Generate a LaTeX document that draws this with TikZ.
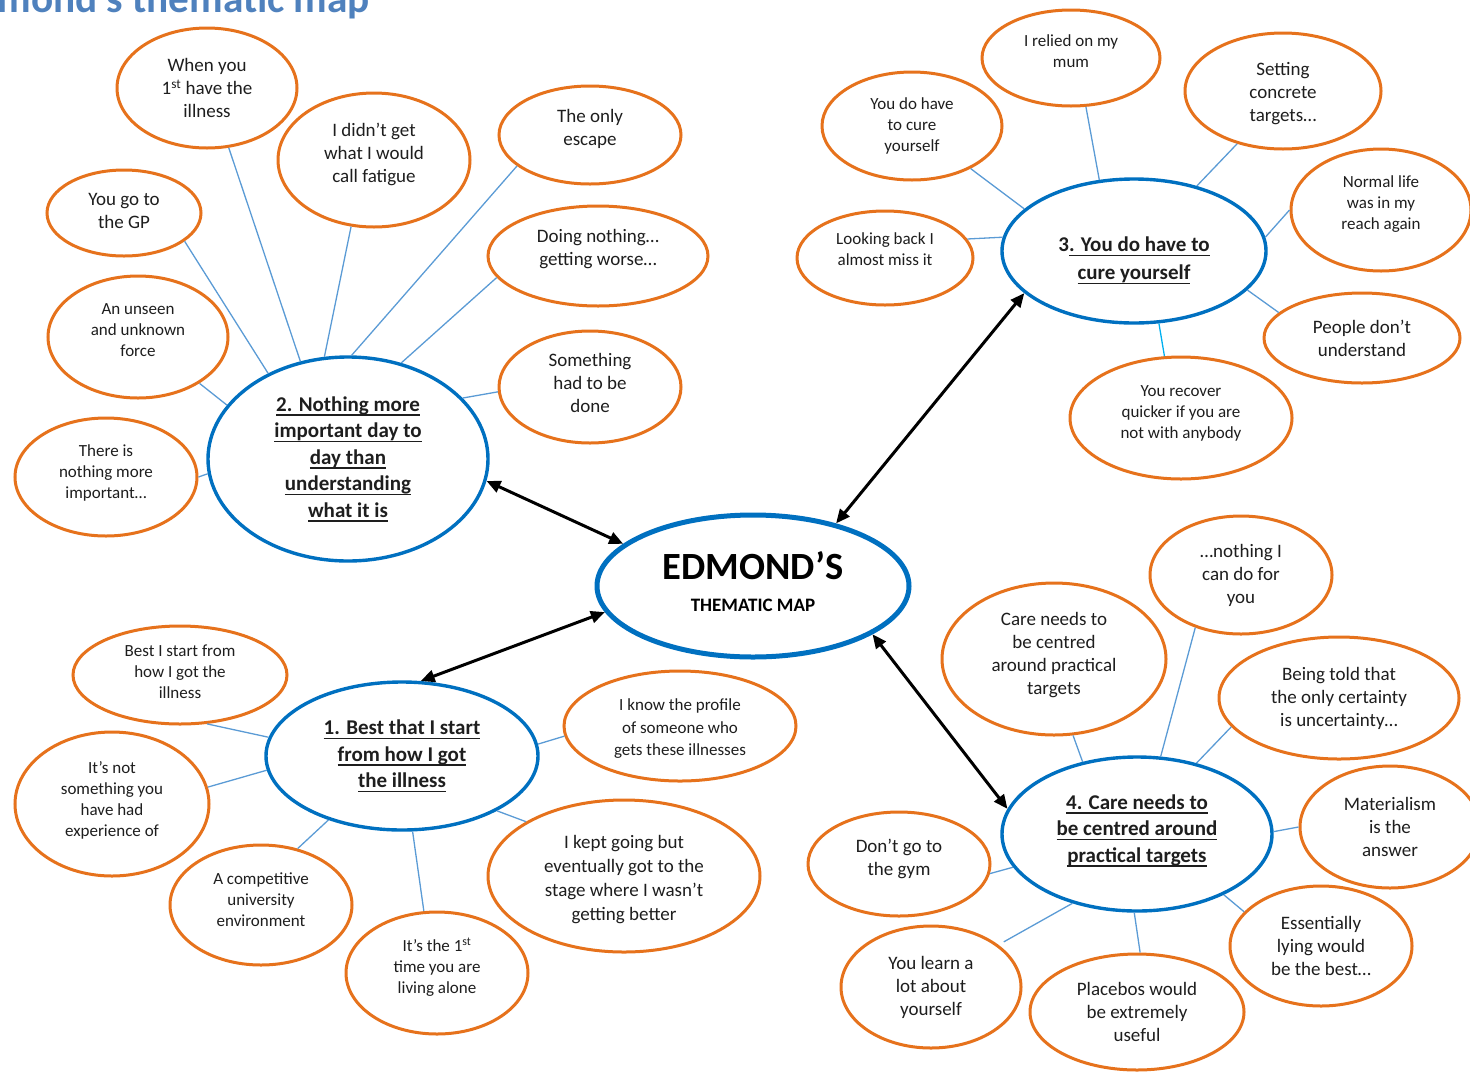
\documentclass[tikz,border=0pt]{standalone}
\usepackage{fontspec}
\setmainfont{Carlito}
\usetikzlibrary{shapes.geometric,arrows.meta}

\definecolor{leafor}{RGB}{230,114,28}
\definecolor{hubblue}{RGB}{0,112,192}
\definecolor{spoke}{RGB}{91,155,213}
\definecolor{spokecyan}{RGB}{0,176,240}
\definecolor{titleblue}{RGB}{79,129,189}
\definecolor{ink}{RGB}{30,30,30}

% underline drawn as a fixed-depth rule under each line
\newsavebox\ulbox
\newcommand{\ulx}[1]{\sbox\ulbox{#1}\rlap{\rule[-4.5pt]{\wd\ulbox}{1.6pt}}\usebox\ulbox}
% invisible struts that nudge a text block up (extra depth) or down (extra height)
\newcommand{\lift}[1]{\rule[-#1pt]{0pt}{#1pt}}
\newcommand{\drop}[1]{\rule{0pt}{#1pt}}

\tikzset{
  sz/.style 2 args={minimum width=#1pt, minimum height=#2pt},
  leaf/.style={ellipse, draw=leafor, line width=3pt, fill=white, inner sep=0pt,
    align=center, text=ink, font=\fontsize{19}{23}\selectfont},
  leafs/.style={leaf, font=\fontsize{17}{21}\selectfont},
  hub/.style={ellipse, draw=hubblue, line width=3.4pt, fill=white, inner sep=0pt,
    align=center, text=ink, font=\fontsize{21}{26.5}\selectfont\bfseries},
  core/.style={ellipse, draw=hubblue, line width=5pt, fill=white, inner sep=0pt,
    align=center, text=black, font=\fontsize{38.5}{32}\selectfont\bfseries},
  link/.style={draw=spoke, line width=1.3pt},
  dbl/.style={{Triangle[length=14pt,width=12pt]}-{Triangle[length=14pt,width=12pt]},
    line width=3pt, black},
}

\begin{document}
\begin{tikzpicture}[x=1pt, y=-1pt]
\useasboundingbox (0,0) rectangle (1470,1072);
\clip (0,0) rectangle (1470,1072);

% heading, running off the top edge
\node[anchor=base west, inner sep=0pt, text=titleblue,
      font=\fontsize{41.3}{41.3}\selectfont\bfseries] (title) at (-44,12) {Edmond’s thematic map};

% centre
\node[core, sz={312}{142}] (c) at (753,586)
  {EDMOND’S\\{\fontsize{19}{22}\selectfont THEMATIC MAP}\lift{10}};

% theme hubs
\node[hub, sz={280}{204}] (h2) at (348,459)
  {\ulx{2. Nothing more}\\\ulx{important day to}\\\ulx{day than}\\\ulx{understanding}\\\ulx{what it is}};
\node[hub, sz={272}{148}] (h1) at (402,756)
  {\ulx{1. Best that I start}\\\ulx{from how I got}\\\ulx{the illness}};
\node[hub, sz={264}{144}, font=\fontsize{21}{28}\selectfont\bfseries] (h3) at (1134,251)
  {3\ulx{. You do have to}\drop{34}\\\ulx{cure yourself}};
\node[hub, sz={270}{154}] (h4) at (1137,834)
  {\ulx{4. Care needs to}\\\ulx{be centred around}\\\ulx{practical targets}\lift{11}};

% theme 2 leaves
\node[leaf, sz={180}{120}] (l1) at (207,88) {When you\\1\textsuperscript{st} have the\\illness};
\node[leaf, sz={192}{134}] (l2) at (374,160) {I didn’t get\\what I would\\call fatigue\lift{14}};
\node[leaf, sz={182}{98}] (l3) at (590,135) {The only\\escape\lift{15}};
\node[leaf, sz={154}{86}] (l4) at (124,213) {You go to\\the GP\lift{4}};
\node[leaf, sz={220}{100}] (l5) at (598,256) {Doing nothing…\\getting worse…\lift{17}};
\node[leafs, sz={180}{122}] (l6) at (138,337) {An unseen\\and unknown\\force\lift{13}};
\node[leaf, sz={182}{112}] (l7) at (590,387) {Something\\had to be\\done\lift{9}};
\node[leafs, sz={182}{118}] (l8) at (106,477) {There is\\nothing more\\important…\lift{11}};

% theme 1 leaves
\node[leafs, sz={214}{98}] (l9) at (180,675) {Best I start from\\how I got the\\illness\lift{6}};
\node[leafs, sz={194}{144}] (l10) at (112,804) {It’s not\\something you\\have had\\experience of\lift{10}};
\node[leafs, sz={182}{120}] (l11) at (261,905) {A competitive\\university\\environment\lift{10}};
\node[leafs, sz={182}{122}] (l12) at (437,973) {It’s the 1\textsuperscript{st}\\time you are\\living alone\lift{14}};
\node[leaf, sz={272}{152}, font=\fontsize{19}{24}\selectfont] (l13) at (624,876)
  {I kept going but\drop{20}\\eventually got to the\\stage where I wasn’t\\getting better};
\node[leafs, sz={232}{110}, font=\fontsize{17}{22.5}\selectfont] (l14) at (680,726)
  {I know the profile\drop{17}\\of someone who\\gets these illnesses};

% theme 3 leaves
\node[leafs, sz={180}{108}] (l15) at (912,126) {You do have\\to cure\\yourself};
\node[leafs, sz={178}{96}] (l16) at (1071,58) {I relied on my\\mum\lift{14}};
\node[leaf, sz={196}{116}] (l17) at (1283,91) {Setting\drop{18}\\concrete\\targets…};
\node[leafs, sz={180}{122}] (l18) at (1381,210) {Normal life\\was in my\\reach again\lift{14}};
\node[leafs, sz={176}{94}] (l19) at (885,258) {Looking back I\\almost miss it\lift{18}};
\node[leaf, sz={196}{90}] (l20) at (1362,338) {People don’t\\understand};
\node[leafs, sz={222}{122}] (l21) at (1181,418) {You recover\\quicker if you are\\not with anybody\lift{12}};

% theme 4 leaves
\node[leaf, sz={182}{118}] (l22) at (1241,575) {…nothing I\\can do for\\you};
\node[leaf, sz={224}{152}] (l23) at (1054,659) {Care needs to\\be centred\\around practical\\targets\lift{12}};
\node[leaf, sz={240}{122}] (l24) at (1339,698) {Being told that\\the only certainty\\is uncertainty…};
\node[leaf, sz={180}{122}] (l25) at (1390,827) {Materialism\\is the\\answer};
\node[leaf, sz={182}{104}] (l26) at (899,864) {Don’t go to\\the gym\lift{14}};
\node[leaf, sz={182}{120}] (l27) at (1321,946) {Essentially\\lying would\\be the best…};
\node[leaf, sz={180}{122}] (l28) at (931,987) {You learn a\\lot about\\yourself};
\node[leaf, sz={214}{116}] (l29) at (1137,1012) {Placebos would\\be extremely\\useful};

% spokes, theme 2
\draw[link] (h2.116) -- (l1.-70);
\draw[link] (h2.103) -- (l2.-109);
\draw[link] (h2.88) -- (l3.203);
\draw[link] (h2.133) -- (l4.-25);
\draw[link] (h2.61) -- (l5.192);
\draw[link] (h2.156) -- (l6.-37);
\draw[link] (h2.28) -- (l7.183);
\draw[link] (h2.186) -- (l8.0);

% spokes, theme 1
\draw[link] (h1.172) -- (l9.-61);
\draw[link] (h1.186) -- (l10.10);
\draw[link] (h1.221) -- (l11.57);
\draw[link] (h1.-82) -- (l12.102);
\draw[link] (h1.-30) -- (l13.151);
\draw[link] (h1.5) -- (l14.185);

% spokes, theme 3
\draw[link] (h3.159) -- (l15.-36);
\draw[link] (h3.116) -- (l16.-73);
\draw[link] (h3.46) -- (l17.229);
\draw[link] (h3.6) -- (l18.180);
\draw[link] (h3.174) -- (l19.13);
\draw[link] (h3.-19) -- (l20.163);
\draw[link, draw=spokecyan] (h3.-71) -- (l21.105);

% spokes, theme 4
\draw[link] (h4.73) -- (l22.229);
\draw[link] (h4.127) -- (l23.-76);
\draw[link] (h4.50) -- (l24.195);
\draw[link] (h4.1) -- (l25.180);
\draw[link] (h4.195) -- (l26.-6);
\draw[link] (h4.-35) -- (l27.156);
\draw[link, shorten >=6pt] (h4.227) -- (l28.32);
\draw[link] (h4.-92) -- (l29.87);

% links between the centre and the themes
\draw[dbl] (h2.-9) -- (c.162);
\draw[dbl] (h1.76) -- (c.-170);
\draw[dbl] (c.37) -- (h3.201);
\draw[dbl] (c.-22) -- (h4.169);
\end{tikzpicture}
\end{document}
